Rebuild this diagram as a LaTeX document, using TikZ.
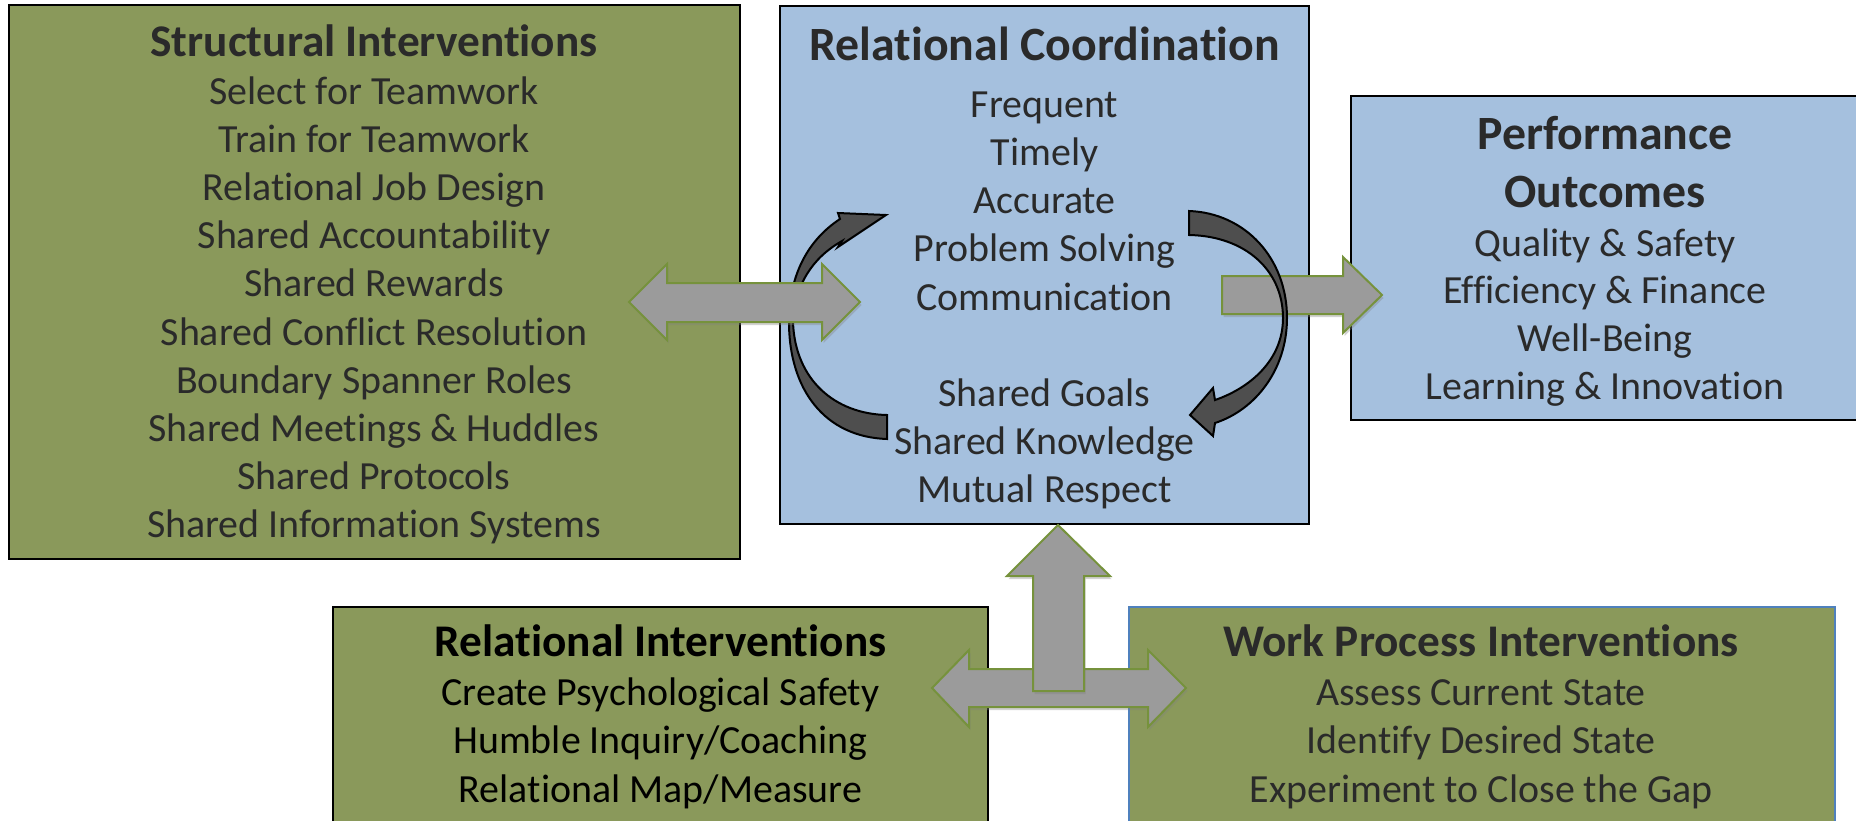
\documentclass[tikz,border=0pt]{standalone}
\usepackage{fontspec}
\setmainfont{Carlito}[Ligatures=NoCommon]
\usetikzlibrary{shadows}
\definecolor{boxgreen}{RGB}{138,153,91}
\definecolor{boxblue}{RGB}{165,192,222}
\definecolor{arrowgray}{RGB}{155,155,155}
\definecolor{arrowline}{RGB}{118,146,60}
\definecolor{curvegray}{RGB}{78,78,78}
\definecolor{txt}{RGB}{42,42,42}
\definecolor{wpblue}{RGB}{79,129,189}
\begin{document}
\begin{tikzpicture}[x=1pt,y=-1pt,
  panel/.style={anchor=north west, inner sep=0pt, outer sep=0pt, line width=2pt, draw=black},
  greenbox/.style={panel, fill=boxgreen},
  bluebox/.style={panel, fill=boxblue},
  body/.style={font=\fontsize{39.9}{48}\selectfont, text=txt, anchor=base, inner sep=0pt},
  title/.style={font=\fontsize{45.3}{52}\selectfont\bfseries, text=txt, anchor=base, inner sep=0pt},
  bigtitle/.style={title, font=\fontsize{47.8}{56}\selectfont\bfseries},
  blockarrow/.style={fill=arrowgray, draw=arrowline, line width=2pt, line join=miter,
    drop shadow={opacity=0.35, shadow xshift=1.5pt, shadow yshift=-3pt}},
  curvearrow/.style={fill=curvegray, draw=black, line width=2pt, line join=miter}
]
\useasboundingbox (0,0) rectangle (1856,820);
\fill[white] (0,0) rectangle (1856,820);

% boxes
\node[greenbox, minimum width=731pt, minimum height=554pt] (si) at (9,5) {};
\node[bluebox, minimum width=529pt, minimum height=518pt] (rc) at (780,6) {};
\node[bluebox, minimum width=520pt, minimum height=324pt] (po) at (1351,96) {};
\node[greenbox, minimum width=655pt, minimum height=240pt] (ri) at (333,607) {};
\node[greenbox, draw=wpblue, line width=1.5pt, minimum width=706pt, minimum height=240pt] (wp) at (1129,607) {};

% Structural Interventions
\node[title] (sititle) at (374,56.5) {Structural Interventions};
\foreach \t [count=\i from 0] in {Select for Teamwork, Train for Teamwork, Relational Job Design,
  Shared Accountability, Shared Rewards, Shared Conflict Resolution, Boundary Spanner Roles,
  Shared Meetings \& Huddles, Shared Protocols, Shared Information Systems}
  \node[body] (s\i) at (374,104.5+48.1*\i) {\t};

% Relational Coordination
\node[bigtitle] (rctitle) at (1044.5,60) {Relational Coordination};
\foreach \t [count=\i from 0] in {Frequent, Timely, Accurate, Problem Solving, Communication}
  \node[body] (r\i) at (1044.5,117+48.25*\i) {\t};
\foreach \t [count=\i from 0] in {Shared Goals, Shared Knowledge, Mutual Respect}
  \node[body] (q\i) at (1044.5,406+48.25*\i) {\t};

% Performance Outcomes
\node[bigtitle] (potitle1) at (1605,149) {Performance};
\node[bigtitle] (potitle2) at (1605,207) {Outcomes};
\foreach \t [count=\i from 0] in {Quality \& Safety, Efficiency \& Finance, Well-Being, Learning \& Innovation}
  \node[body] (p\i) at (1605,256+47.7*\i) {\t};

% Relational Interventions
\node[title, text=black] (rititle) at (660.5,656) {Relational Interventions};
\foreach \t [count=\i from 0] in {Create Psychological Safety, Humble Inquiry/Coaching, Relational Map/Measure}
  \node[body, text=black] (ri\i) at (660.5,705+48.5*\i) {\t};

% Work Process Interventions
\node[title] (wptitle) at (1481,656) {Work Process Interventions};
\foreach \t [count=\i from 0] in {Assess Current State, Identify Desired State, Experiment to Close the Gap}
  \node[body] (wp\i) at (1481,705+48.5*\i) {\t};

% left curved arrow (behind the double arrow)
\draw[curvearrow] (887,439) .. controls (825,437) and (789,390) .. (789,322)
  .. controls (789,275) and (808,240) .. (840,219) -- (838,213) -- (886,215) -- (838,247) -- (842,241)
  .. controls (812,258) and (795,285) .. (793,322)
  .. controls (795,380) and (835,414) .. (887,415) -- cycle;

% double arrow between structural and RC
\draw[blockarrow] (629,302) -- (667,264) -- (667,283) -- (822,283) -- (822,264) -- (860,302)
  -- (822,340) -- (822,322) -- (667,322) -- (667,340) -- cycle;

% arrow RC -> performance
\draw[blockarrow] (1222,276) -- (1343,276) -- (1343,257) -- (1382,295) -- (1343,333) -- (1343,314) -- (1222,314) -- cycle;

% right curved arrow (in front)
\draw[curvearrow] (1189,211) .. controls (1245,213) and (1287,258) .. (1287,318)
  .. controls (1287,370) and (1255,410) .. (1215,423) -- (1213,436) -- (1190,415) -- (1213,388) -- (1215,400)
  .. controls (1250,388) and (1283,360) .. (1283,318)
  .. controls (1283,270) and (1245,236) .. (1189,235) -- cycle;

% bottom double arrow
\draw[blockarrow] (932,688) -- (969,650) -- (969,669) -- (1148,669) -- (1148,650) -- (1186,688)
  -- (1148,727) -- (1148,707) -- (969,707) -- (969,727) -- cycle;
% up arrow
\draw[blockarrow] (1058,525) -- (1110,576) -- (1084,576) -- (1084,691) -- (1033,691) -- (1033,576) -- (1007,576) -- cycle;
\end{tikzpicture}
\end{document}
